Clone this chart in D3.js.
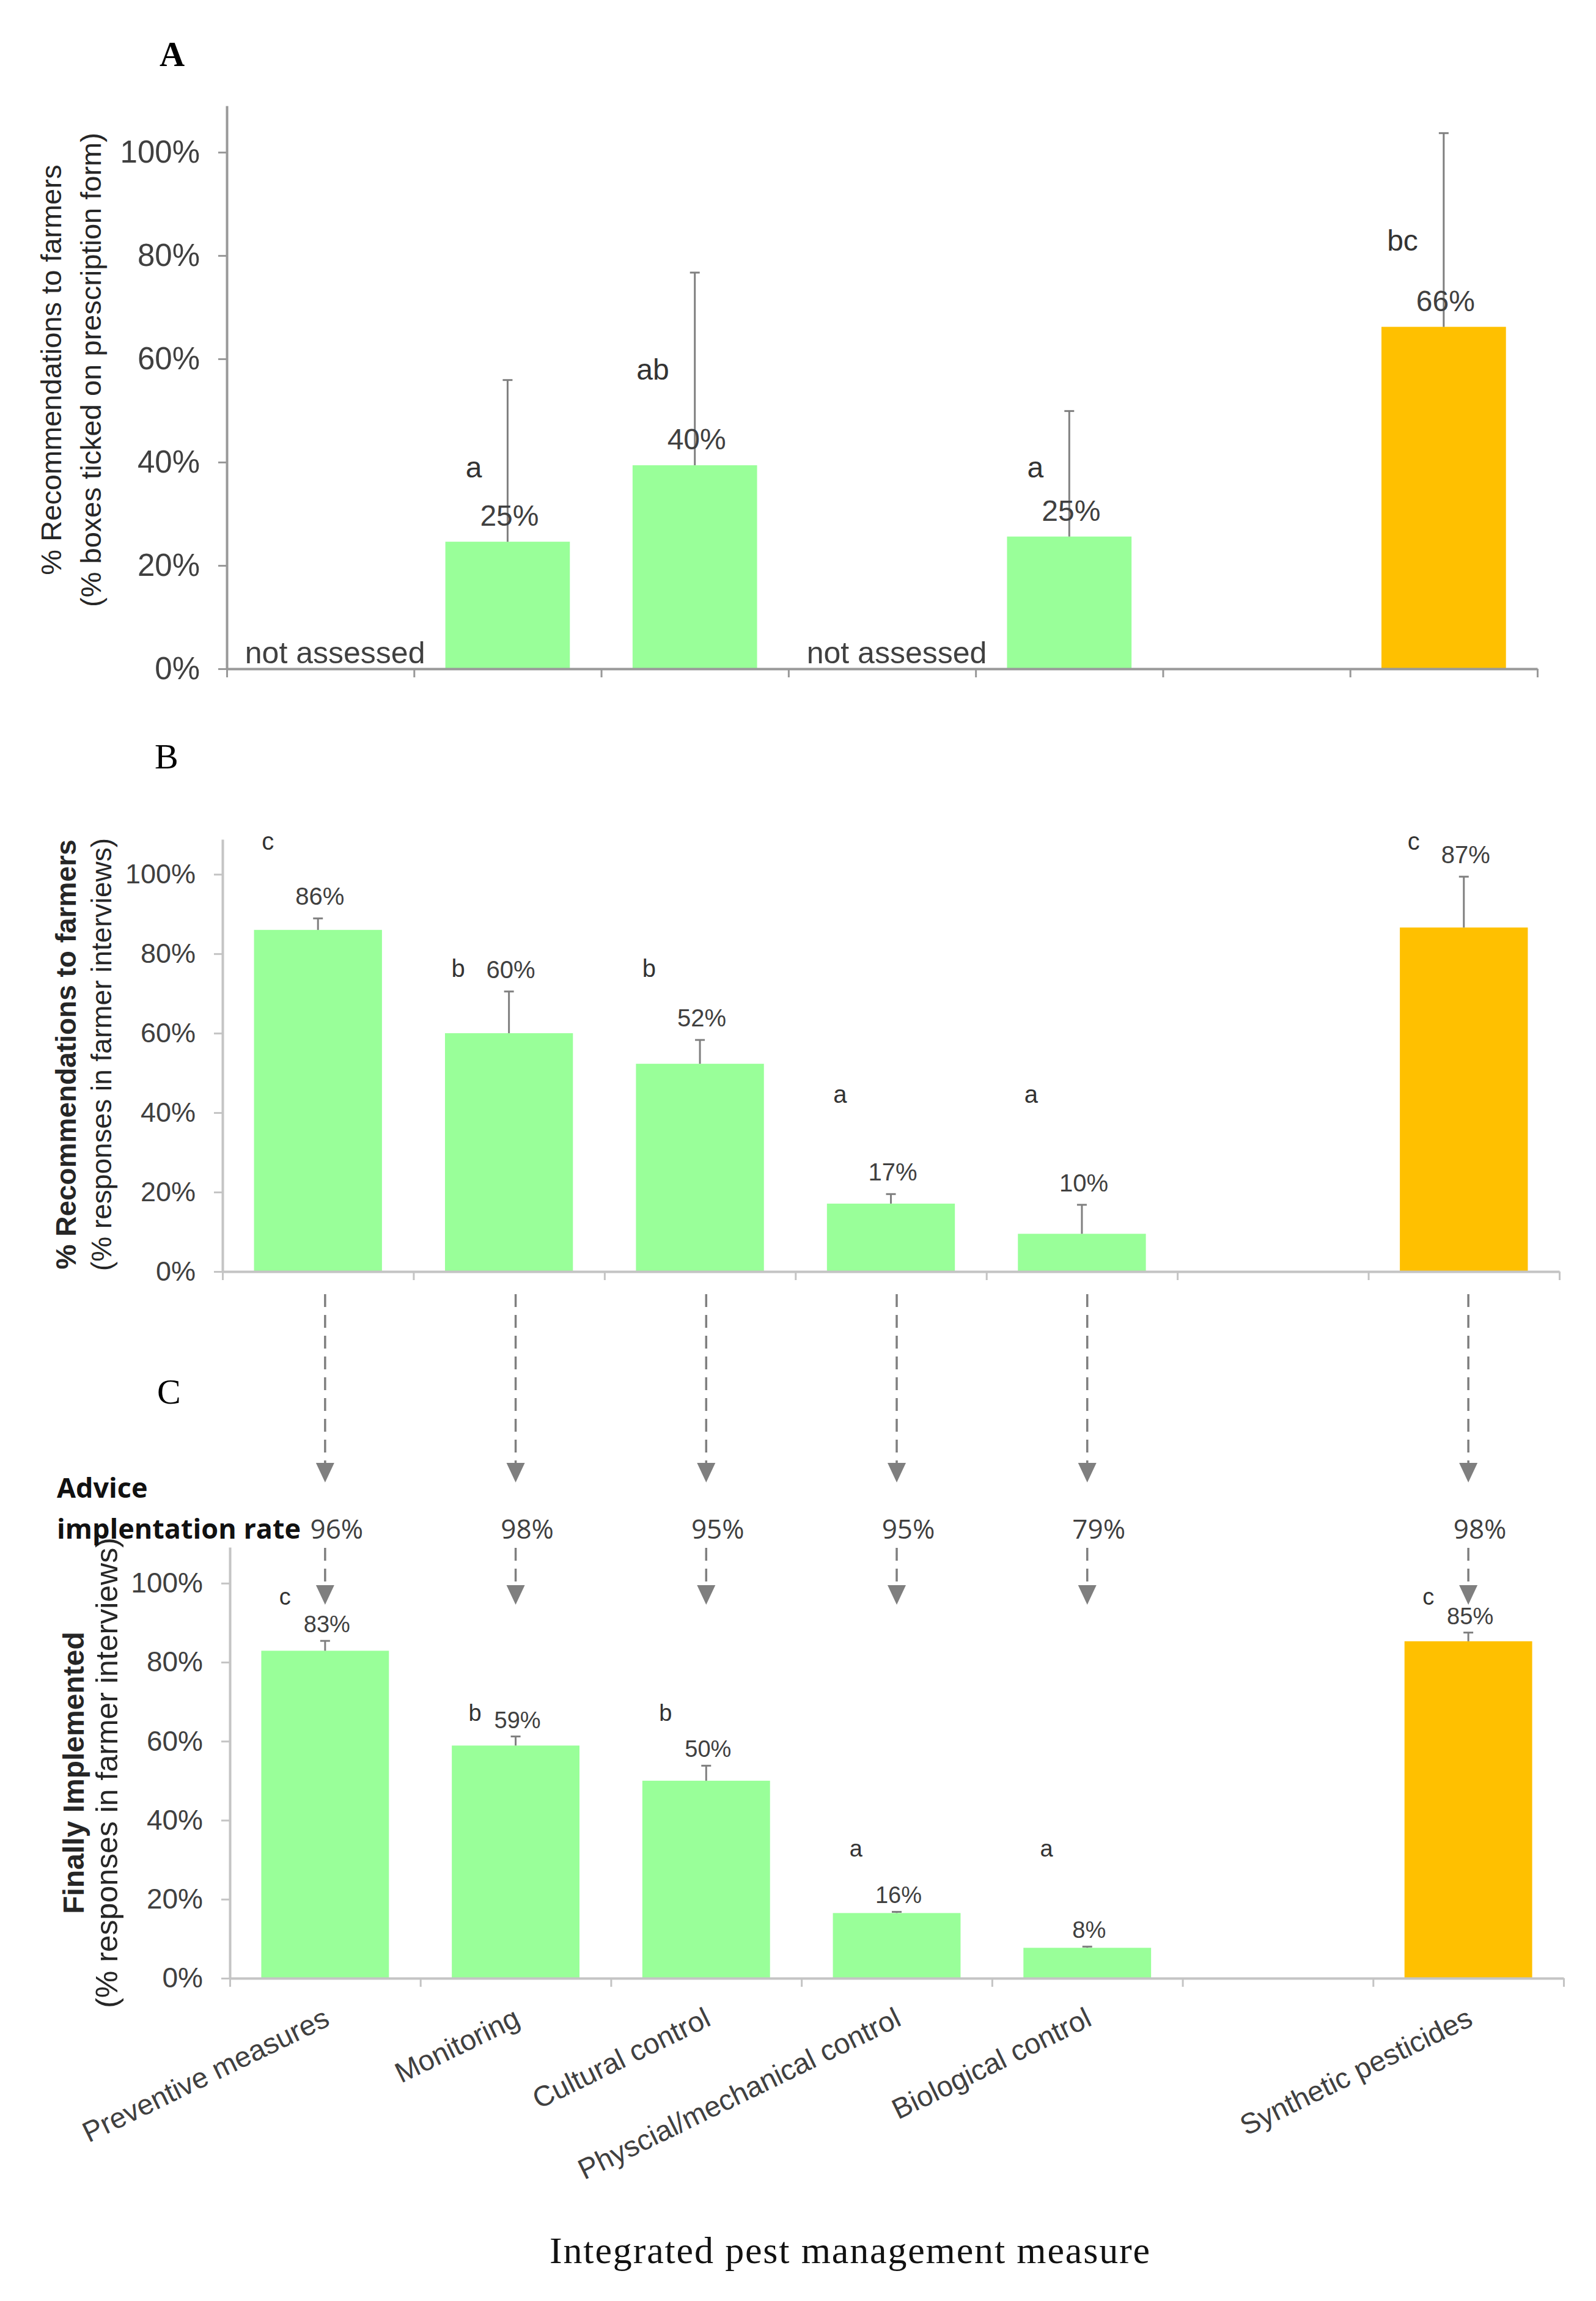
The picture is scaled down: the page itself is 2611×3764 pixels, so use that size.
<!DOCTYPE html>
<html>
<head>
<meta charset="utf-8">
<script src="https://cdn.jsdelivr.net/npm/d3@7"></script>
<style>
  body { margin: 0; background: #fff; }
  svg { font-family: "Liberation Sans", Arial, sans-serif; }
</style>
</head>
<body>
<svg id="chart" width="2611" height="3764"></svg>
<script>
// IPM measures on the x axis (slot 5 is an empty gap in the figure)
var categories = ['Preventive measures', 'Monitoring', 'Cultural control',
  'Physcial/mechanical control', 'Biological control', '', 'Synthetic pesticides'];
var measureType = ['ipm', 'ipm', 'ipm', 'ipm', 'ipm', null, 'chemical'];
var yTicks = [0, 20, 40, 60, 80, 100];

// A: prescription forms
var prescribedValues = [null, 24.6, 39.4, null, 25.6, null, 66.2];
var prescribedErrTop = [null, 55.9, 76.7, null, 49.9, null, 103.7];
var prescribedLabels = [null, '25%', '40%', null, '25%', null, '66%'];
var prescribedLetters = [null, 'a', 'ab', null, 'a', null, 'bc'];
var notAssessed = [true, false, false, true, false, false, false];

// B: recommendations from farmer interviews
var recommendedValues = [86.0, 60.0, 52.3, 17.1, 9.5, null, 86.6];
var recommendedErrTop = [88.9, 70.5, 58.3, 19.5, 16.8, null, 99.4];
var recommendedLabels = ['86%', '60%', '52%', '17%', '10%', null, '87%'];
var recommendedLetters = ['c', 'b', 'b', 'a', 'a', null, 'c'];

// advice implementation rate between B and C
var adoptionRates = ['96%', '98%', '95%', '95%', '79%', null, '98%'];

// C: finally implemented
var implementedValues = [82.9, 58.9, 50.0, 16.5, 7.7, null, 85.3];
var implementedErrTop = [85.4, 61.2, 53.8, 16.8, 8.0, null, 87.5];
var implementedLabels = ['83%', '59%', '50%', '16%', '8%', null, '85%'];
var implementedLetters = ['c', 'b', 'b', 'a', 'a', null, 'c'];

var GREEN = '#99FF99', ORANGE = '#FFC000', TEXT = '#404040', ERR = '#7f7f7f';
var SERIF = '"Liberation Serif", "Times New Roman", serif';
var SANS2 = '"Open Sans", sans-serif';

var svg = d3.select('#chart');

function drawPanel(p) {
  var g = svg.append('g');
  var n = categories.length;
  var x = d3.scaleBand().domain(d3.range(n)).range([p.left, p.right]);
  var xEdge = d3.scaleLinear().domain([0, n]).range([p.left, p.right]);
  var y = d3.scaleLinear().domain([0, p.max]).range([p.bottom, p.top]);
  var bw = x.bandwidth() * p.barFrac;
  var cx = function (i) { return x(i) + x.bandwidth() / 2; };
  var idx = d3.range(n).filter(function (i) { return p.values[i] != null; });

  // bars
  g.selectAll('rect.bar').data(idx).join('rect')
    .attr('class', 'bar')
    .attr('x', function (i) { return cx(i) - bw / 2; })
    .attr('width', bw)
    .attr('y', function (i) { return y(p.values[i]); })
    .attr('height', function (i) { return y(0) - y(p.values[i]); })
    .attr('fill', function (i) { return measureType[i] === 'chemical' ? ORANGE : GREEN; });

  // upper error bars
  var eb = g.selectAll('g.err').data(idx).join('g').attr('class', 'err')
    .attr('stroke', ERR).attr('stroke-width', 3);
  eb.append('line')
    .attr('x1', cx).attr('x2', cx)
    .attr('y1', function (i) { return y(p.values[i]); })
    .attr('y2', function (i) { return y(p.errTop[i]); });
  eb.append('line')
    .attr('x1', function (i) { return cx(i) - 8; })
    .attr('x2', function (i) { return cx(i) + 8; })
    .attr('y1', function (i) { return y(p.errTop[i]); })
    .attr('y2', function (i) { return y(p.errTop[i]); });

  // axes
  var yAxis = g.append('g').attr('transform', 'translate(' + p.left + ',0)')
    .call(d3.axisLeft(y).tickValues(yTicks).tickFormat(function (d) { return d + '%'; })
      .tickSize(14).tickSizeOuter(0).tickPadding(30));
  yAxis.attr('font-family', null);
  yAxis.select('.domain').attr('stroke', p.axisColor).attr('stroke-width', 4);
  yAxis.selectAll('.tick line').attr('stroke', p.axisColor).attr('stroke-width', 3);
  yAxis.selectAll('.tick text').attr('font-size', p.tickFont).attr('fill', TEXT);

  var xAxis = g.append('g').attr('transform', 'translate(0,' + p.bottom + ')')
    .call(d3.axisBottom(xEdge).tickValues(d3.range(n + 1)).tickFormat('')
      .tickSize(14).tickSizeOuter(0));
  xAxis.select('.domain').attr('stroke', p.axisColor).attr('stroke-width', 4);
  xAxis.selectAll('.tick line').attr('stroke', p.axisColor).attr('stroke-width', 3);

  // value labels
  g.selectAll('text.val').data(idx).join('text').attr('class', 'val')
    .attr('x', function (i) { return cx(i) + 3; })
    .attr('y', function (i) { return y(p.labelFromErr ? p.errTop[i] : p.values[i]) - p.labelGap; })
    .attr('text-anchor', 'middle')
    .attr('font-size', p.labelFont).attr('fill', TEXT)
    .text(function (i) { return p.labels[i]; });

  // significance letters
  g.selectAll('text.letter').data(idx).join('text').attr('class', 'letter')
    .attr('x', function (i) { return cx(i) + p.letterDx; })
    .attr('y', function (i) { return y(p.letterLevel[p.letters[i]]); })
    .attr('text-anchor', 'end')
    .attr('font-size', p.labelFont).attr('fill', '#333')
    .text(function (i) { return p.letters[i]; });

  // y axis title (two lines)
  p.titles.forEach(function (t) {
    g.append('text')
      .attr('transform', 'translate(' + t.x + ',' + p.titleY + ') rotate(-90)')
      .attr('text-anchor', 'middle').attr('dy', '0.35em')
      .attr('font-size', t.size).attr('font-weight', t.bold ? 'bold' : 'normal')
      .attr('fill', '#262626')
      .text(t.text);
  });

  return { x: x, y: y, cx: cx };
}

// Panel letters
svg.append('text').attr('x', 261).attr('y', 108).style('font-family', SERIF)
  .attr('font-size', 57).attr('font-weight', 'bold').text('A');
svg.append('text').attr('x', 253).attr('y', 1257).style('font-family', SERIF)
  .attr('font-size', 58).text('B');
svg.append('text').attr('x', 257).attr('y', 2296).style('font-family', SERIF)
  .attr('font-size', 58).text('C');

// A
var pa = drawPanel({
  left: 371, right: 2515, top: 173, bottom: 1094, max: 109, barFrac: 0.665,
  values: prescribedValues, errTop: prescribedErrTop, labels: prescribedLabels,
  letters: prescribedLetters, letterLevel: { a: 37, ab: 56, bc: 81 }, letterDx: -42,
  labelFromErr: false, labelGap: 26, labelFont: 48, tickFont: 51, axisColor: '#999999',
  titleY: 605,
  titles: [
    { x: 84, size: 47, bold: false, text: '% Recommendations to farmers' },
    { x: 149, size: 47, bold: false, text: '(% boxes ticked on prescription form)' }
  ]
});
svg.append('g').selectAll('text').data(d3.range(categories.length).filter(function (i) { return notAssessed[i]; }))
  .join('text')
  .attr('x', function (i) { return pa.cx(i) + 24; })
  .attr('y', 1085)
  .attr('text-anchor', 'middle').attr('font-size', 50).attr('fill', TEXT)
  .text('not assessed');

// B
var pb = drawPanel({
  left: 364, right: 2551, top: 1373, bottom: 2080, max: 108.8, barFrac: 0.67,
  values: recommendedValues, errTop: recommendedErrTop, labels: recommendedLabels,
  letters: recommendedLetters, letterLevel: { a: 42.5, b: 74.2, c: 106.2 }, letterDx: -72,
  labelFromErr: true, labelGap: 22, labelFont: 40, tickFont: 45, axisColor: '#c4c4c4',
  titleY: 1725,
  titles: [
    { x: 108, size: 46, bold: true, text: '% Recommendations to farmers' },
    { x: 166, size: 46, bold: false, text: '(% responses in farmer interviews)' }
  ]
});

// C
var pc = drawPanel({
  left: 376, right: 2558, top: 2531, bottom: 3236, max: 109.1, barFrac: 0.67,
  values: implementedValues, errTop: implementedErrTop, labels: implementedLabels,
  letters: implementedLetters, letterLevel: { a: 30.8, b: 65.2, c: 94.6 }, letterDx: -56,
  labelFromErr: true, labelGap: 14, labelFont: 38, tickFont: 46, axisColor: '#c4c4c4',
  titleY: 2900,
  titles: [
    { x: 120, size: 48, bold: true, text: 'Finally Implemented' },
    { x: 174, size: 50, bold: false, text: '(% responses in farmer interviews)' }
  ]
});

// rotated category labels under panel C
svg.append('g').selectAll('text').data(d3.range(categories.length).filter(function (i) { return categories[i]; }))
  .join('text')
  .attr('transform', function (i) { return 'translate(' + (pc.cx(i) + 10) + ',' + 3312 + ') rotate(-26)'; })
  .attr('text-anchor', 'end').attr('font-size', 47).attr('fill', TEXT)
  .text(function (i) { return categories[i]; });

// x axis title
svg.append('text').attr('x', 1390).attr('y', 3702)
  .attr('text-anchor', 'middle').style('font-family', SERIF)
  .attr('font-size', 62).attr('textLength', 982).attr('lengthAdjust', 'spacing')
  .attr('fill', '#111')
  .text('Integrated pest management measure');

// dashed arrows B -> C with the advice implementation rate
var arrowSegs = [[2117, 2425], [2532, 2625]];
var rateIdx = d3.range(categories.length).filter(function (i) { return adoptionRates[i]; });
var arrows = svg.append('g');
rateIdx.forEach(function (i) {
  var ax = pc.cx(i);
  arrowSegs.forEach(function (s) {
    arrows.append('line')
      .attr('x1', ax).attr('x2', ax).attr('y1', s[0]).attr('y2', s[1] - 30)
      .attr('stroke', ERR).attr('stroke-width', 3.5).attr('stroke-dasharray', '21,13');
    arrows.append('path')
      .attr('d', 'M' + (ax - 15) + ',' + (s[1] - 32) + 'L' + (ax + 15) + ',' + (s[1] - 32) + 'L' + ax + ',' + s[1] + 'Z')
      .attr('fill', ERR);
  });
});
svg.append('g').selectAll('text').data(rateIdx).join('text')
  .attr('x', function (i) { return pc.cx(i) + 19; })
  .attr('y', 2517)
  .attr('text-anchor', 'middle').style('font-family', SANS2)
  .attr('font-size', 44).attr('fill', TEXT)
  .text(function (i) { return adoptionRates[i]; });

svg.append('text').attr('x', 93).attr('y', 2450).style('font-family', SANS2)
  .attr('font-weight', 'bold').attr('font-size', 45).attr('fill', '#111').text('Advice');
svg.append('text').attr('x', 93).attr('y', 2517).style('font-family', SANS2)
  .attr('font-weight', 'bold').attr('font-size', 45).attr('fill', '#111').text('implentation rate');
</script>
</body>
</html>
